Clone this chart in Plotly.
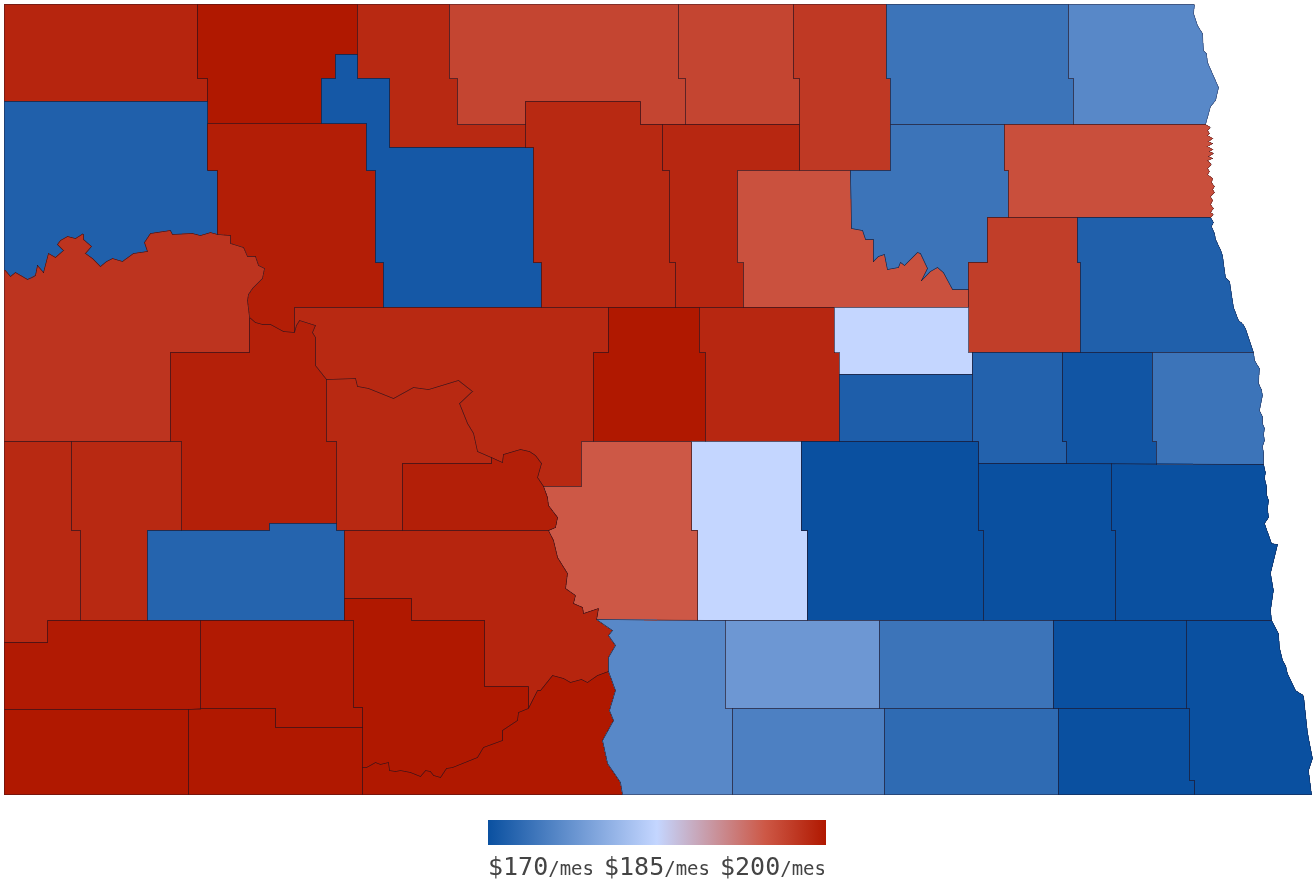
import math
import plotly.graph_objects as go

COUNTIES = ["Divide","Burke","Renville","Bottineau","Rolette","Towner","Cavalier","Pembina",
            "Williams","Mountrail","Ward","McHenry","Pierce","Benson","Ramsey","Walsh","Nelson","Grand Forks",
            "McKenzie","Dunn","Mercer","McLean","Sheridan","Wells","Eddy","Foster","Griggs","Steele","Traill",
            "Kidder","Burleigh","Stutsman","Barnes","Cass","Golden Valley","Billings","Stark","Oliver","Morton",
            "Bowman","Slope","Hettinger","Adams","Grant","Sioux","Emmons","Logan","McIntosh","LaMoure","Dickey",
            "Ransom","Sargent","Richland"]
VALUES = [198.9,200.0,198.6,196.2,196.2,197.2,174.0,176.3,
          171.8,199.5,170.9,198.6,198.7,195.2,174.0,195.4,196.8,171.8,
          197.6,199.3,198.6,198.6,200.0,198.7,185.0,171.6,172.0,170.6,174.0,
          185.0,194.6,170.0,170.0,170.0,198.6,198.6,172.2,199.4,198.9,
          200.0,199.8,199.8,200.0,200.0,200.0,176.3,178.0,175.4,174.0,173.0,
          170.0,170.0,170.0]
TICK_VALUES = [170, 185, 200]
TICK_LABELS = ["$170", "$185", "$200"]
TICK_UNIT = "/mes"
COLORS = [[0.0, "rgb(10,80,160)"], [0.5, "rgb(196,214,255)"],
          [0.82, "rgb(205,88,70)"], [1.0, "rgb(176,24,0)"]]

# County boundaries, traced on a survey grid (grid units east / south), georeferenced below.
M1 = [(4,269),(8,273),(10,276),(15,272),(21,276),(27,279),(32,277),(35,275),(37,265),(43,272),(46,262),(48,253),(55,257),(63,250),(57,244),(60,240),(67,236),(75,238),(83,233),(83,239),(91,246),(85,253),(92,258),(96,263),(100,266),(106,261),(112,258),(122,261),(128,257),(133,253),(147,251),(144,242),(150,233),(160,232),(170,230),(172,234),(182,233),(192,233),(200,235),(210,232),(217,234)]
M2 = [(217,234),(230,235),(230,243),(243,247),(247,256),(255,256),(258,265),(264,268),(262,278),(252,288),(248,294),(247,300),(249,317)]
M3 = [(249,317),(255,322),(262,324),(270,324),(277,328),(283,331),(294,332)]
M4 = [(294,332),(296,325),(299,320),(307,322),(315,325),(312,332),(315,337),(315,365),(319,371),(326,379)]
M5 = [(326,379),(340,379),(355,378),(357,386),(368,388),(380,393),(393,398),(403,392),(413,387),(428,389),(443,385),(458,380),(472,391),(459,403),(463,413),(467,423),(473,433),(477,451),(491,457)]
M6 = [(491,457),(502,462),(503,454),(511,451),(520,449),(529,451),(535,455),(541,463),(537,477),(543,486)]
M7 = [(543,486),(547,497),(548,505),(557,517),(555,527),(548,530)]
M8 = [(548,530),(553,540),(557,557),(567,573),(565,588),(575,595),(573,603),(582,607),(583,613),(590,611),(598,608),(596,619)]
M9 = [(596,619),(612,630),(608,635),(615,645),(608,657),(608,671)]
M10 = [(608,671),(615,690),(609,710),(613,720),(602,740),(607,763),(620,782),(622,794)]
M11 = [(608,671),(597,675),(587,682),(581,679),(575,680),(570,682),(563,678),(557,677),(552,675),(548,680),(540,690),(537,690),(533,698),(528,708)]
M12 = [(528,708),(518,712),(517,720),(510,724),(502,730),(502,740),(493,743),(483,747),(477,757),(464,762),(458,764),(452,767),(446,768),(440,777),(433,775),(430,771),(425,770),(420,776),(410,772),(400,770),(395,771),(389,770),(388,762),(380,764),(375,762),(372,763),(366,767),(362,767)]
B1 = [(851,228),(862,230),(865,239),(873,239),(873,261),(878,256),(884,254),(887,269),(898,267),(900,262),(904,265),(910,258),(917,252),(920,253),(927,268),(921,280),(930,271),(937,267),(943,272),(950,285),(952,289),(968,289)]
E1 = [(1194,4),(1193,13),(1195,19),(1197,25),(1200,29),(1202,33),(1203,42),(1203,50),(1206,53),(1207,62),(1210,68),(1212,75),(1215,80),(1218,87),(1215,100),(1210,106),(1209,110),(1207,118),(1205,124)]
E2 = [(1205,124),(1210,127),(1207,130),(1209,133),(1207,135),(1212,138),(1208,141),(1212,143),(1207,146),(1212,149),(1209,151),(1213,153),(1208,156),(1212,158),(1207,160),(1211,164),(1207,168),(1209,171),(1207,174),(1212,178),(1211,182),(1214,186),(1212,189),(1214,192),(1210,196),(1212,200),(1210,204),(1213,208),(1210,212),(1213,214),(1210,217)]
E3 = [(1210,217),(1213,222),(1211,226),(1214,233),(1215,239),(1217,245),(1220,249),(1222,255),(1223,265),(1225,277),(1229,281),(1230,290),(1232,299),(1233,307),(1236,313),(1238,320),(1242,323),(1245,328),(1247,336),(1250,343),(1253,352)]
E4 = [(1253,352),(1254,360),(1257,364),(1259,368),(1259,375),(1258,383),(1261,389),(1262,395),(1260,403),(1259,410),(1262,416),(1262,423),(1264,428),(1263,434),(1264,440),(1262,446),(1263,452),(1262,458),(1263,464)]
E5 = [(1263,464),(1265,472),(1264,478),(1266,486),(1266,494),(1268,500),(1267,508),(1268,517),(1264,523),(1266,529),(1268,535),(1271,543),(1277,544),(1275,552),(1273,560),(1272,566),(1270,573),(1272,581),(1273,590),(1272,600),(1270,610),(1271,620)]
E6 = [(1271,620),(1275,626),(1278,633),(1279,647),(1282,660),(1285,665),(1287,673),(1291,681),(1295,690),(1303,695),(1304,706),(1305,717),(1307,732),(1310,747),(1312,758),(1308,770),(1309,782),(1311,794)]

OUTLINES = {
    "Divide": [(4,4),(197,4),(197,78),(207,78),(207,101),(4,101)],
    "Burke": [(197,4),(357,4),(357,54),(335,54),(335,78),(321,78),(321,123),(207,123),(207,78),(197,78)],
    "Renville": [(357,4),(449,4),(449,78),(457,78),(457,124),(525,124),(525,147),(389,147),(389,78),(357,78)],
    "Bottineau": [(449,4),(678,4),(678,78),(685,78),(685,124),(640,124),(640,101),(525,101),(525,124),(457,124),(457,78),(449,78)],
    "Rolette": [(678,4),(793,4),(793,78),(799,78),(799,124),(685,124),(685,78),(678,78)],
    "Towner": [(793,4),(886,4),(886,78),(890,78),(890,170),(799,170),(799,78),(793,78)],
    "Cavalier": [(886,4),(1068,4),(1068,78),(1073,78),(1073,124),(890,124),(890,78),(886,78)],
    "Pembina": [(1068,4)] + E1 + [(1073,124),(1073,78),(1068,78)],
    "Williams": [(4,101),(207,101),(207,170),(217,170)] + M1[::-1],
    "Mountrail": [(207,123),(366,123),(366,170),(375,170),(375,262),(383,262),(383,307),(294,307)] + M3[::-1] + M2[::-1][1:] + [(217,170),(207,170)],
    "Ward": [(335,54),(357,54),(357,78),(389,78),(389,147),(533,147),(533,262),(541,262),(541,307),(383,307),(383,262),(375,262),(375,170),(366,170),(366,123),(321,123),(321,78),(335,78)],
    "McHenry": [(525,101),(640,101),(640,124),(662,124),(662,170),(669,170),(669,262),(675,262),(675,307),(541,307),(541,262),(533,262),(533,147),(525,147)],
    "Pierce": [(662,124),(799,124),(799,170),(737,170),(737,262),(743,262),(743,307),(675,307),(675,262),(669,262),(669,170),(662,170)],
    "Benson": [(737,170),(850,170)] + B1 + [(968,307),(743,307),(743,262),(737,262)],
    "Ramsey": [(890,124),(1004,124),(1004,170),(1008,170),(1008,217),(987,217),(987,262),(968,262)] + B1[::-1] + [(850,170),(890,170)],
    "Walsh": [(1004,124)] + E2 + [(1008,217),(1008,170),(1004,170)],
    "Nelson": [(987,217),(1077,217),(1077,262),(1080,262),(1080,352),(968,352),(968,262),(987,262)],
    "Grand Forks": [(1077,217)] + E3 + [(1080,352),(1080,262),(1077,262)],
    "McKenzie": M1 + M2[1:] + [(249,352),(170,352),(170,441),(4,441)],
    "Dunn": M3 + M4[1:] + [(326,441),(336,441),(336,523),(269,523),(269,530),(181,530),(181,441),(170,441),(170,352),(249,352)],
    "Mercer": M5 + [(491,463),(402,463),(402,530),(336,530),(336,441),(326,441)],
    "McLean": [(294,307),(608,307),(608,352),(593,352),(593,441),(581,441),(581,486)] + M6[::-1] + M5[::-1][1:] + M4[::-1][1:],
    "Sheridan": [(608,307),(699,307),(699,352),(705,352),(705,441),(593,441),(593,352),(608,352)],
    "Wells": [(699,307),(834,307),(834,352),(839,352),(839,441),(705,441),(705,352),(699,352)],
    "Eddy": [(834,307),(968,307),(968,352),(972,352),(972,374),(839,374),(839,352),(834,352)],
    "Foster": [(839,374),(972,374),(972,441),(839,441)],
    "Griggs": [(972,352),(1062,352),(1062,441),(1066,441),(1066,463),(978,463),(978,441),(972,441)],
    "Steele": [(1062,352),(1152,352),(1152,441),(1156,441),(1156,464),(1066,463),(1066,441),(1062,441)],
    "Traill": [(1152,352)] + E4 + [(1156,464),(1156,441),(1152,441)],
    "Kidder": [(691,441),(801,441),(801,530),(807,530),(807,620),(697,620),(697,530),(691,530)],
    "Burleigh": [(581,441),(691,441),(691,530),(697,530),(697,620),(596,619)] + M8[::-1][1:] + M7[::-1][1:] + [(581,486)],
    "Stutsman": [(801,441),(978,441),(978,530),(983,530),(983,620),(807,620),(807,530),(801,530)],
    "Barnes": [(978,463),(1111,463),(1111,530),(1115,530),(1115,620),(983,620),(983,530),(978,530)],
    "Cass": [(1111,463)] + E5 + [(1115,620),(1115,530),(1111,530)],
    "Golden Valley": [(4,441),(71,441),(71,530),(80,530),(80,620),(47,620),(47,642),(4,642)],
    "Billings": [(71,441),(181,441),(181,530),(147,530),(147,620),(80,620),(80,530),(71,530)],
    "Stark": [(147,530),(269,530),(269,523),(336,523),(336,530),(344,530),(344,620),(147,620)],
    "Oliver": [(402,463),(491,463)] + M6 + M7[1:] + [(402,530)],
    "Morton": [(344,530)] + M8 + M9[1:] + M11[1:] + [(528,686),(484,686),(484,620),(411,620),(411,598),(344,598)],
    "Bowman": [(4,709),(188,709),(188,794),(4,794)],
    "Slope": [(4,642),(47,642),(47,620),(200,620),(200,709),(4,709)],
    "Hettinger": [(200,620),(353,620),(353,707),(362,707),(362,727),(275,727),(275,708),(200,708)],
    "Adams": [(188,709),(200,708),(275,708),(275,727),(362,727),(362,794),(188,794)],
    "Grant": [(344,598),(411,598),(411,620),(484,620),(484,686),(528,686)] + M12 + [(362,707),(353,707),(353,620),(344,620)],
    "Sioux": M11 + M12[1:] + [(362,794),(622,794)] + M10[::-1][1:],
    "Emmons": [(596,619),(725,620),(725,708),(732,708),(732,794)] + [(622,794)] + M10[::-1][1:] + M9[::-1][1:],
    "Logan": [(725,620),(879,620),(879,708),(725,708)],
    "McIntosh": [(732,708),(884,708),(884,794),(732,794)],
    "LaMoure": [(879,620),(1053,620),(1053,708),(879,708)],
    "Dickey": [(884,708),(1058,708),(1058,794),(884,794)],
    "Ransom": [(1053,620),(1186,620),(1186,708),(1053,708)],
    "Sargent": [(1058,708),(1189,708),(1189,780),(1194,780),(1194,794),(1058,794)],
    "Richland": [(1186,620)] + E6 + [(1194,794),(1194,780),(1189,780),(1189,708),(1186,708)],
}

# Georeference the survey grid (Mercator, state bounds)
W_LON, PER_DEG = -104.05, 1307 / 7.5
K = PER_DEG * 180 / math.pi
Y_TOP = math.log(math.tan(math.radians(45 + 49.0 / 2)))


def lonlat(p):
    x, y = p
    lon = W_LON + (x - 4) / PER_DEG
    m = Y_TOP - (y - 4) / K
    lat = 2 * math.degrees(math.atan(math.exp(m))) - 90
    return [lon, lat]


def ring(points):
    pts = list(points)
    if pts[0] == pts[-1]:
        pts = pts[:-1]
    out = [lonlat(p) for p in pts]
    out.append(out[0])
    return out


geojson = {"type": "FeatureCollection", "features": [
    {"type": "Feature", "id": name, "properties": {"name": name},
     "geometry": {"type": "Polygon", "coordinates": [ring(OUTLINES[name])]}}
    for name in COUNTIES]}

W, H = 1316, 890
MAP_BOTTOM = 800
c_lon, c_lat = lonlat((W / 2 - 0.5, MAP_BOTTOM / 2 - 0.5))
fig = go.Figure(go.Choroplethmap(
    geojson=geojson, locations=COUNTIES, z=VALUES,
    zmin=TICK_VALUES[0], zmax=TICK_VALUES[-1], colorscale=COLORS,
    marker=dict(line=dict(color="rgba(30,15,30,0.5)", width=0.6)),
    hovertemplate="%{location}: $%{z}/mes<extra></extra>",
    colorbar=dict(orientation="h", x=657 / W, xanchor="center", y=1 - 820 / H, yanchor="top",
                  len=338, lenmode="pixels", thickness=25, thicknessmode="pixels",
                  xpad=0, ypad=0, outlinewidth=0, ticks="", showticklabels=False),
))
fig.update_layout(map=dict(style="white-bg", center=dict(lon=c_lon, lat=c_lat),
                           zoom=math.log2(K * 2 * math.pi / 512),
                           domain=dict(x=[0, 1], y=[1 - MAP_BOTTOM / H, 1])))
for label, cx in zip(TICK_LABELS, [541, 657, 773]):
    fig.add_annotation(xref="paper", yref="paper", x=cx / W, y=1 - 866 / H, xanchor="center", yanchor="middle",
                       showarrow=False, font=dict(family="DejaVu Sans Mono", size=25, color="#444444"),
                       text=f"{label}<span style='font-size:19px'>{TICK_UNIT}</span>")
fig.update_layout(width=W, height=H, margin=dict(l=0, r=0, t=0, b=0), paper_bgcolor="white",
                  showlegend=False)
fig.write_html("out.html", config={"displayModeBar": False},
               post_script="document.body.style.margin='0';document.body.style.overflow='hidden';")
